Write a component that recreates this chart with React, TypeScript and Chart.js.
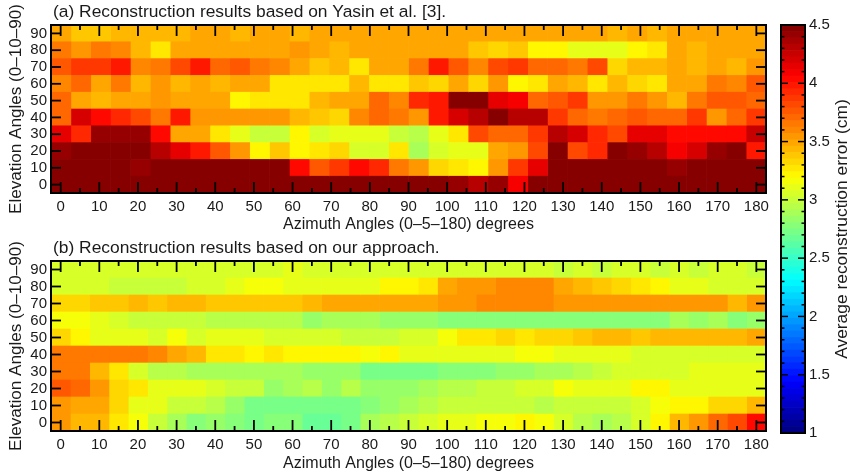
import React, { useEffect, useRef } from "react";
import { Chart, registerables } from "chart.js";

Chart.register(...registerables);

const elevationLabels = ["90", "80", "70", "60", "50", "40", "30", "20", "10", "0"];
const azimuthMajor = [0, 10, 20, 30, 40, 50, 60, 70, 80, 90, 100, 110, 120, 130, 140, 150, 160, 170, 180];
const azimuthMinor = [5, 15, 25, 35, 45, 55, 65, 75, 85, 95, 105, 115, 125, 135, 145, 155, 165, 175];
const colorbarTicks = [1, 1.5, 2, 2.5, 3, 3.5, 4, 4.5];
const colorbarMinor = [1.1,1.2,1.3,1.4,1.6,1.7,1.8,1.9,2.1,2.2,2.3,2.4,2.6,2.7,2.8,2.9,3.1,3.2,3.3,3.4,3.6,3.7,3.8,3.9,4.1,4.2,4.3,4.4];

const yasin90 = [3.47,3.37,3.37,3.41,3.41,3.41,3.41,3.47,3.47,3.41,3.47,3.47,3.41,3.47,3.47,3.47,3.47,3.47,3.47,3.47,3.47,3.47,3.47,3.47,3.47,3.47,3.47,3.47,3.41,3.47,3.41,3.47,3.47,3.47,3.47,3.47];
const yasin80 = [3.63,3.55,3.65,3.6,3.41,3.25,3.47,3.47,3.47,3.47,3.5,3.47,3.55,3.5,3.41,3.5,3.5,3.5,3.5,3.5,3.5,3.37,3.3,3.37,3.19,3.19,3.12,3.12,3.12,3.19,3.25,3.47,3.41,3.47,3.47,3.47];
const yasin70 = [3.77,3.88,3.88,4.0,3.6,3.63,3.82,4.0,3.68,3.77,3.63,3.6,3.5,3.37,3.41,3.25,3.47,3.5,3.63,4.0,3.77,3.6,3.82,3.88,3.68,3.68,3.63,3.8,3.3,3.41,3.41,3.47,3.41,3.47,3.41,3.57];
const yasin60 = [3.6,3.72,3.5,3.63,3.41,3.52,3.41,3.5,3.41,3.47,3.5,3.25,3.25,3.25,3.28,3.41,3.28,3.28,3.37,3.3,3.47,3.33,3.57,3.19,3.28,3.5,3.41,3.28,3.41,3.33,3.25,3.47,3.5,3.63,3.6,3.77];
const yasin50 = [3.68,3.5,3.41,3.47,3.5,3.55,3.47,3.47,3.47,3.19,3.28,3.28,3.28,3.44,3.47,3.47,3.68,3.6,3.95,4.0,4.5,4.5,4.15,4.1,3.68,3.77,3.88,3.55,3.55,3.65,3.52,3.41,3.63,3.75,3.75,3.68];
const yasin40 = [3.68,4.19,4.06,3.95,3.82,3.63,4.0,3.52,3.52,3.52,3.57,3.57,3.44,3.37,3.3,3.6,3.7,3.65,3.52,4.0,4.19,4.33,4.5,4.29,4.29,3.88,3.72,3.65,3.7,3.75,3.7,3.7,3.88,3.52,3.7,3.88];
const yasin30 = [4.12,3.92,4.42,4.42,4.42,4.06,3.5,3.5,3.28,3.12,3.02,3.0,3.19,3.05,3.09,3.13,3.09,3.0,2.95,3.13,3.25,3.82,3.72,3.72,3.88,4.3,4.2,3.95,3.8,4.12,4.12,4.02,4.02,4.02,4.06,4.23];
const yasin20 = [4.42,4.47,4.47,4.47,4.47,4.33,4.15,3.97,3.77,3.57,3.22,3.37,3.19,3.28,3.33,3.03,3.05,3.25,2.9,3.03,3.12,3.12,3.5,3.57,3.82,4.5,3.82,3.95,4.5,4.42,4.3,4.1,4.2,4.42,4.5,4.0];
const yasin10 = [4.5,4.5,4.5,4.5,4.4,4.5,4.5,4.5,4.5,4.5,4.5,4.5,4.03,3.77,3.88,4.06,3.95,3.63,3.52,3.3,3.25,3.19,3.52,3.88,4.15,4.5,4.5,4.5,4.5,4.5,4.5,4.4,4.5,4.5,4.5,4.5];
const yasin0 = [4.5,4.5,4.5,4.5,4.5,4.5,4.5,4.5,4.5,4.5,4.5,4.5,4.5,4.5,4.5,4.5,4.5,4.5,4.5,4.5,4.4,4.33,4.4,4.1,4.5,4.5,4.5,4.5,4.5,4.5,4.5,4.5,4.5,4.5,4.5,4.5];

const ours90 = [3.05,3.03,3.03,3.03,3.03,3.03,3.03,3.03,3.03,3.03,3.03,3.07,3.08,3.06,3.04,3.07,3.04,3.04,3.04,3.03,3.03,3.03,3.03,3.03,3.03,3.03,3.0,3.03,2.98,3.07,3.07,3.02,3.07,3.0,3.04,3.03,3.0];
const ours80 = [3.07,3.07,3.07,3.02,3.02,3.02,3.02,3.05,3.05,3.12,3.17,3.17,3.13,3.13,3.13,3.13,3.13,3.19,3.19,3.28,3.47,3.55,3.55,3.6,3.6,3.6,3.5,3.44,3.37,3.33,3.28,3.19,3.12,3.12,3.07,3.04,3.04];
const ours70 = [3.3,3.33,3.37,3.37,3.44,3.37,3.44,3.44,3.37,3.37,3.37,3.37,3.4,3.41,3.47,3.47,3.5,3.5,3.5,3.5,3.55,3.55,3.58,3.58,3.58,3.58,3.55,3.53,3.53,3.53,3.53,3.53,3.53,3.52,3.52,3.44,3.52];
const ours60 = [3.17,3.17,3.12,3.07,3.02,3.02,3.0,3.0,2.93,2.93,2.93,2.93,2.93,2.85,2.9,2.88,2.88,2.85,2.85,2.85,2.78,2.78,2.78,2.78,2.78,2.78,2.75,2.75,2.75,2.8,2.8,2.8,2.9,2.85,2.88,2.78,2.85];
const ours50 = [3.3,3.19,3.12,3.12,3.12,3.06,3.14,3.07,3.1,3.1,3.1,3.05,3.03,3.05,3.05,3.0,2.98,2.98,3.03,3.07,3.17,3.25,3.25,3.33,3.25,3.3,3.33,3.37,3.44,3.44,3.37,3.44,3.44,3.44,3.44,3.44,3.5];
const ours40 = [3.63,3.63,3.63,3.63,3.63,3.6,3.5,3.41,3.28,3.28,3.22,3.28,3.19,3.19,3.19,3.19,3.14,3.19,3.13,3.13,3.13,3.13,3.13,3.13,3.18,3.18,3.13,3.13,3.13,3.13,3.07,3.07,3.07,3.03,3.03,3.03,3.03];
const ours30 = [3.63,3.63,3.44,3.25,3.05,2.95,2.95,2.9,2.87,2.87,2.87,2.87,2.87,2.83,2.83,2.83,2.72,2.72,2.72,2.72,2.77,2.77,2.8,2.85,2.85,2.87,2.9,2.93,3.0,3.05,3.05,3.05,3.05,3.13,3.13,3.13,3.13];
const ours20 = [3.75,3.68,3.52,3.33,3.28,3.1,3.1,3.1,3.05,3.0,2.98,2.85,2.9,2.92,2.85,2.92,2.85,2.85,2.85,2.9,2.95,2.95,3.0,3.0,3.05,3.05,3.17,3.13,3.13,3.13,3.19,3.19,3.13,3.13,3.08,3.08,3.08];
const ours10 = [3.55,3.47,3.47,3.33,3.13,3.1,3.02,3.02,2.95,2.85,2.7,2.7,2.7,2.7,2.7,2.7,2.77,2.85,2.9,2.92,2.97,3.02,3.02,3.02,2.97,2.93,2.97,2.97,2.97,2.97,3.07,3.14,3.19,3.19,3.3,3.3,3.41];
const ours0 = [3.52,3.44,3.41,3.25,3.14,2.97,2.87,2.8,2.83,2.78,2.72,2.78,2.78,2.68,2.65,2.72,2.9,2.93,2.97,3.03,3.1,3.1,3.15,3.15,3.19,3.15,3.05,2.95,2.9,2.92,3.03,3.19,3.41,3.55,3.68,3.82,4.06];

const yasinRows = [yasin90, yasin80, yasin70, yasin60, yasin50, yasin40, yasin30, yasin20, yasin10, yasin0];
const oursRows = [ours90, ours80, ours70, ours60, ours50, ours40, ours30, ours20, ours10, ours0];

const V_MIN = 1;
const V_MAX = 4.5;
const LEVELS = 64;
const X_MIN = -2.5;
const X_MAX = 182.5;
const FONT = "'Liberation Sans', Arial, sans-serif";
const INK = "#1a1a1a";
const TICK_SIZE = 15;
const TITLE_SIZE = 17.4;

const clamp01 = (n: number) => Math.max(0, Math.min(1, n));

function jetLevel(i: number): string {
  const t = (i + 0.5) / LEVELS;
  const ch = (c: number) => Math.round(255 * clamp01(Math.min(4 * t - c + 0.5, -4 * t + c + 2.5)));
  return `rgb(${ch(2)},${ch(1)},${ch(0)})`;
}

function jet(v: number): string {
  const i = Math.min(LEVELS - 1, Math.max(0, Math.floor(((v - V_MIN) / (V_MAX - V_MIN)) * LEVELS)));
  return jetLevel(i);
}

const ticksPlugin = {
  id: "inwardTicks",
  afterLayout(chart: any) {
    if (chart.titleBlock) {
      chart.titleBlock.left += 2;
      chart.titleBlock.right += 2;
    }
  },
  afterDatasetsDraw(chart: any) {
    const { ctx, chartArea: a, scales } = chart;
    ctx.save();
    ctx.strokeStyle = "#000";
    ctx.lineWidth = 1.8;
    const seg = (x1: number, y1: number, x2: number, y2: number) => {
      ctx.beginPath();
      ctx.moveTo(x1, y1);
      ctx.lineTo(x2, y2);
      ctx.stroke();
    };
    azimuthMajor.forEach((v) => {
      const x = scales.x.getPixelForValue(v);
      seg(x, a.top, x, a.top + 11);
      seg(x, a.bottom, x, a.bottom - 11);
    });
    azimuthMinor.forEach((v) => {
      const x = scales.x.getPixelForValue(v);
      seg(x, a.top, x, a.top + 5);
      seg(x, a.bottom, x, a.bottom - 5);
    });
    elevationLabels.forEach((_, i) => {
      const y = scales.y.getPixelForValue(i);
      seg(a.left, y, a.left + 10, y);
      seg(a.right, y, a.right - 10, y);
    });
    ctx.lineWidth = 2;
    ctx.strokeRect(a.left, a.top, a.right - a.left, a.bottom - a.top);
    ctx.restore();
  },
};

const colorbarPlugin = {
  id: "colorbarFrame",
  afterDatasetsDraw(chart: any) {
    const { ctx, chartArea: a, scales } = chart;
    ctx.save();
    ctx.strokeStyle = "#000";
    ctx.lineWidth = 1.5;
    const seg = (x1: number, y1: number, x2: number, y2: number) => {
      ctx.beginPath();
      ctx.moveTo(x1, y1);
      ctx.lineTo(x2, y2);
      ctx.stroke();
    };
    colorbarTicks.forEach((v) => {
      const y = scales.y.getPixelForValue(v);
      seg(a.left, y, a.left + 7, y);
      seg(a.right, y, a.right - 7, y);
    });
    colorbarMinor.forEach((v) => {
      const y = scales.y.getPixelForValue(v);
      seg(a.left, y, a.left + 3.5, y);
      seg(a.right, y, a.right - 3.5, y);
    });
    ctx.lineWidth = 2;
    ctx.strokeRect(a.left, a.top, a.right - a.left, a.bottom - a.top);
    ctx.fillStyle = INK;
    ctx.font = `${TITLE_SIZE}px ${FONT}`;
    ctx.textAlign = "center";
    ctx.textBaseline = "middle";
    ctx.translate(67, (a.top + a.bottom) / 2);
    ctx.rotate(-Math.PI / 2);
    ctx.fillText("Average reconstruction error (cm)", 0, 0);
    ctx.restore();
  },
};

function heatmapConfig(rows: number[][], title: string, axisHeight: number, xTitleGap: number): any {
  const columns = rows[0].length;
  const width = (X_MAX - X_MIN) / columns;
  const datasets = rows[0].map((_, c) => ({
    data: rows.map(() => [X_MIN + c * width, X_MIN + (c + 1) * width]),
    backgroundColor: rows.map((row) => jet(row[c])),
    borderWidth: 0,
    barPercentage: 1,
    categoryPercentage: 1,
    grouped: false,
  }));
  return {
    type: "bar",
    data: { labels: elevationLabels, datasets },
    plugins: [ticksPlugin],
    options: {
      animation: false,
      responsive: false,
      indexAxis: "y",
      layout: { padding: { left: 8, right: 9, top: 0, bottom: 0 } },
      plugins: {
        legend: { display: false },
        tooltip: { enabled: false },
        title: {
          display: true,
          text: title,
          align: "start",
          fullSize: false,
          color: INK,
          font: { family: FONT, size: TITLE_SIZE, weight: "normal", lineHeight: 1 },
          padding: { top: 3.5, bottom: 4.1 },
        },
      },
      scales: {
        x: {
          type: "linear",
          min: X_MIN,
          max: X_MAX,
          afterBuildTicks: (s: any) => {
            s.ticks = azimuthMajor.map((value) => ({ value }));
          },
          afterFit: (s: any) => {
            s.height = axisHeight;
          },
          grid: { display: false, drawTicks: false },
          border: { display: false },
          ticks: { color: INK, font: { family: FONT, size: TICK_SIZE }, padding: 5, autoSkip: false, maxRotation: 0, callback: (v: number) => String(v) },
          title: {
            display: true,
            text: "Azimuth Angles (0\u20135\u2013180) degrees",
            color: INK,
            font: { family: FONT, size: 16, lineHeight: 1 },
            padding: { top: 2, bottom: xTitleGap },
          },
        },
        y: {
          type: "category",
          afterFit: (s: any) => {
            s.width = 43;
          },
          grid: { display: false, drawTicks: false },
          border: { display: false },
          ticks: { color: INK, font: { family: FONT, size: TICK_SIZE }, padding: 4, autoSkip: false },
          title: {
            display: true,
            text: "Elevation Angles (0\u201310\u201390)",
            color: INK,
            font: { family: FONT, size: 17.1, lineHeight: 1 },
            padding: { top: 0, bottom: 0 },
          },
        },
      },
    },
  };
}

function colorbarConfig(): any {
  const step = (V_MAX - V_MIN) / LEVELS;
  const levels = Array.from({ length: LEVELS }, (_, i) => i);
  const datasets = levels.map((i) => ({
    data: [[V_MIN + i * step, V_MIN + (i + 1) * step]],
    backgroundColor: jetLevel(i),
    borderWidth: 0,
    barPercentage: 1,
    categoryPercentage: 1,
    grouped: false,
  }));
  return {
    type: "bar",
    data: { labels: ["error"], datasets },
    plugins: [colorbarPlugin],
    options: {
      animation: false,
      responsive: false,
      layout: { padding: { left: 6, right: 0, top: 25, bottom: 43 } },
      plugins: { legend: { display: false }, tooltip: { enabled: false }, title: { display: false } },
      scales: {
        x: { display: false },
        y: {
          type: "linear",
          position: "right",
          min: V_MIN,
          max: V_MAX,
          afterBuildTicks: (s: any) => {
            s.ticks = colorbarTicks.map((value) => ({ value }));
          },
          afterFit: (s: any) => {
            s.width = 45;
          },
          grid: { display: false, drawTicks: false },
          border: { display: false },
          ticks: { color: INK, font: { family: FONT, size: TICK_SIZE }, padding: 4, callback: (v: number) => String(v) },
        },
      },
    },
  };
}

function Panel({ config, left, top, width, height }: any) {
  const ref = useRef<HTMLCanvasElement>(null);
  useEffect(() => {
    const chart = new Chart(ref.current as HTMLCanvasElement, config);
    return () => chart.destroy();
  }, []);
  return <canvas ref={ref} width={width} height={height} style={{ position: "absolute", left, top, width, height, display: "block" }} />;
}

export default function App() {
  return (
    <div style={{ position: "absolute", left: 0, top: 0, width: 850, height: 476, background: "#fff" }}>
      <Panel config={heatmapConfig(yasinRows, "(a) Reconstruction results based on Yasin et al. [3].", 43, 3)} left={0} top={0} width={775} height={236} />
      <Panel config={heatmapConfig(oursRows, "(b) Reconstruction results based on our approach.", 45, 4)} left={0} top={236} width={775} height={240} />
      <Panel config={colorbarConfig()} left={775} top={0} width={75} height={476} />
    </div>
  );
}
